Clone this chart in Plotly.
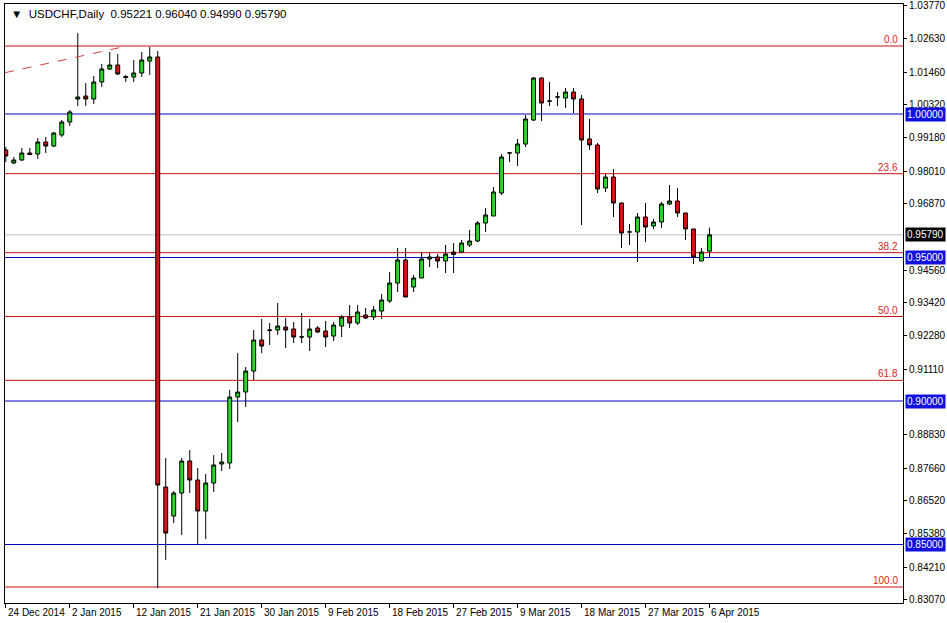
import pandas as pd
import plotly.graph_objects as go

# ---------------- data ----------------
start_date = "2014-12-24"
end_date = "2015-04-06"

opens = [0.98746, 0.98293, 0.98397, 0.98641, 0.98606, 0.99024, 0.98885, 0.99268, 0.99721, 1.00523,
         1.00627, 1.00523, 1.01115, 1.01568, 1.01707, 1.01306, 1.01289, 1.01428, 1.01847, 1.01986,
         0.87004, 0.85993, 0.86794, 0.87909, 0.87247, 0.86167, 0.87143, 0.87805, 0.87840, 0.90139,
         0.90314, 0.91045, 0.92125, 0.92456, 0.92474, 0.92578, 0.92509, 0.92230, 0.92230, 0.92544,
         0.92439, 0.92265, 0.92613, 0.92927, 0.92718, 0.92997, 0.92927, 0.93136, 0.93484, 0.94111,
         0.94913, 0.93972, 0.94286, 0.94948, 0.95017, 0.94878, 0.95192, 0.95192, 0.95436, 0.95575,
         0.96202, 0.96446, 0.97247, 0.98641, 0.98641, 0.98955, 0.99791, 1.01254, 1.00453, 1.00592,
         1.00557, 1.00766, 1.00523, 0.99129, 0.98920, 0.97422, 0.97805, 0.96899, 0.95888, 0.95888,
         0.96411, 0.96098, 0.96237, 0.96864, 0.96969, 0.96550, 0.95993, 0.94878, 0.95221]
highs = [0.98850, 0.98502, 0.98815, 0.98815, 0.99164, 0.99199, 0.99373, 0.99791, 1.00139, 1.02822,
         1.01080, 1.01324, 1.01742, 1.02160, 1.02091, 1.01359, 1.01881, 1.02160, 1.02334, 1.02195,
         0.88014, 0.86864, 0.88014, 0.88293, 0.87666, 0.87456, 0.88118, 0.88188, 0.90383, 0.91672,
         0.91185, 0.92474, 0.92857, 0.92718, 0.93415, 0.92892, 0.92753, 0.93066, 0.92857, 0.92613,
         0.92787, 0.92753, 0.92997, 0.93345, 0.93345, 0.93240, 0.93310, 0.93728, 0.94495, 0.95331,
         0.95331, 0.94390, 0.95192, 0.95157, 0.95122, 0.95436, 0.95505, 0.95610, 0.95958, 0.96272,
         0.96725, 0.97456, 0.98606, 0.98676, 0.99129, 0.99965, 1.01280, 1.01280, 1.01115, 1.00766,
         1.00906, 1.00906, 1.00662, 0.99826, 0.98990, 0.97909, 0.98084, 0.96910, 0.96167, 0.96550,
         0.96899, 0.96341, 0.96934, 0.97526, 0.97422, 0.96560, 0.96000, 0.95331, 0.96040]
lows = [0.98327, 0.98258, 0.98362, 0.98571, 0.98432, 0.98641, 0.98850, 0.99199, 0.99582, 1.00279,
        1.00279, 1.00348, 1.00941, 1.01533, 1.01359, 1.01115, 1.01115, 1.01289, 1.01359, 0.83484,
        0.84460, 0.85749, 0.85331, 0.86794, 0.84983, 0.85192, 0.86829, 0.87561, 0.87631, 0.89268,
        0.89791, 0.90732, 0.91672, 0.91951, 0.92300, 0.91847, 0.92021, 0.92021, 0.91742, 0.92369,
        0.91881, 0.92091, 0.92230, 0.92544, 0.92648, 0.92857, 0.92822, 0.92857, 0.93415, 0.93798,
        0.93624, 0.93798, 0.94286, 0.94669, 0.94634, 0.94460, 0.94460, 0.95157, 0.95366, 0.95540,
        0.95888, 0.96446, 0.97178, 0.98327, 0.98188, 0.98850, 0.99756, 0.99756, 1.00279, 1.00279,
        1.00209, 1.00035, 0.96132, 0.98746, 0.97247, 0.97282, 0.96411, 0.95331, 0.95436, 0.94843,
        0.95540, 0.95993, 0.96028, 0.96829, 0.96411, 0.95610, 0.94773, 0.94878, 0.94990]
closes = [0.98537, 0.98397, 0.98641, 0.98589, 0.99024, 0.98885, 0.99338, 0.99721, 1.00070, 1.00592,
          1.00523, 1.01115, 1.01568, 1.01707, 1.01394, 1.01272, 1.01428, 1.01881, 1.01986, 0.87073,
          0.85401, 0.86794, 0.87909, 0.87247, 0.86167, 0.87143, 0.87770, 0.87875, 0.90139, 0.90314,
          0.91045, 0.92125, 0.91916, 0.92474, 0.92613, 0.92474, 0.92230, 0.92235, 0.92509, 0.92404,
          0.92230, 0.92648, 0.92927, 0.92718, 0.93101, 0.92892, 0.93171, 0.93519, 0.94111, 0.94913,
          0.93624, 0.94286, 0.94948, 0.95017, 0.94878, 0.95122, 0.95105, 0.95505, 0.95575, 0.96202,
          0.96481, 0.97282, 0.98502, 0.98645, 0.98955, 0.99826, 1.01254, 1.00383, 1.00450, 1.00595,
          1.00766, 1.00523, 0.99094, 0.98920, 0.97387, 0.97805, 0.96899, 0.95854, 0.95892, 0.96411,
          0.96063, 0.96237, 0.96864, 0.96969, 0.96550, 0.95993, 0.95017, 0.95192, 0.95790]

fib_high = 1.02369
fib_low = 0.83519
fib_levels = [0.0, 23.6, 38.2, 50.0, 61.8, 100.0]
round_levels = [1.00000, 0.95000, 0.90000, 0.85000]
axis_ticks = [1.03770, 1.02630, 1.01460, 1.00320, 0.99180, 0.98010, 0.96870, 0.94560, 0.93420,
              0.92280, 0.91110, 0.88830, 0.87660, 0.86520, 0.85380, 0.84210, 0.83070]
trend_x = [-0.1, 14.6]
trend_y = [1.01440, 1.02334]
symbol = "USDCHF,Daily"
date_tick_step = 8

# ---------------- figure ----------------
dates = pd.bdate_range(start_date, end_date, freq="C", weekmask="Sun Mon Tue Wed Thu Fri")
idx = list(range(len(dates)))

fig = go.Figure()
fig.add_trace(go.Candlestick(
    x=idx, open=opens, high=highs, low=lows, close=closes,
    increasing=dict(fillcolor="#22dd22", line=dict(color="#000000", width=1)),
    decreasing=dict(fillcolor="#dd1111", line=dict(color="#000000", width=1)),
    whiskerwidth=0, showlegend=False, hoverinfo="skip"))

fig.add_trace(go.Scatter(x=trend_x, y=trend_y, mode="lines",
                         line=dict(color="#d04040", width=1, dash="dash"),
                         showlegend=False, hoverinfo="skip"))

shapes = []
annotations = []
FONT = "Liberation Sans"

# current price line
last_close = closes[-1]
shapes.append(dict(type="line", xref="paper", x0=0, x1=1, yref="y", y0=last_close, y1=last_close,
                   line=dict(color="#c0c0c0", width=1), layer="below"))

# fib lines
for lv in fib_levels:
    price = fib_high - (fib_high - fib_low) * lv / 100.0
    shapes.append(dict(type="line", xref="paper", x0=0, x1=1, yref="y", y0=price, y1=price,
                       line=dict(color="#cc1111", width=1), layer="below"))
    annotations.append(dict(xref="paper", x=0.997, yref="y", y=price, text=f"{lv:.1f}",
                            showarrow=False, xanchor="right", yanchor="bottom",
                            font=dict(family=FONT, size=10, color="#dd2222"), yshift=-1))

# round number lines
for lv in round_levels:
    shapes.append(dict(type="line", xref="paper", x0=0, x1=1, yref="y", y0=lv, y1=lv,
                       line=dict(color="#0000c0", width=1), layer="below"))
    annotations.append(dict(xref="paper", x=1, yref="y", y=lv, text=f"{lv:.5f}",
                            showarrow=False, xanchor="left", yanchor="middle", xshift=2,
                            bgcolor="#1010e0", borderpad=1,
                            font=dict(family=FONT, size=10, color="#ffffff")))

annotations.append(dict(xref="paper", x=1, yref="y", y=last_close, text=f"{last_close:.5f}",
                        showarrow=False, xanchor="left", yanchor="middle", xshift=2,
                        bgcolor="#000000", borderpad=1,
                        font=dict(family=FONT, size=10, color="#ffffff")))

# title
annotations.append(dict(xref="paper", x=0, yref="paper", y=1, xshift=4, yshift=-2,
                        text=f"▼  {symbol}  {opens[-1]:.5f} {highs[-1]:.5f} {lows[-1]:.5f} {closes[-1]:.5f}",
                        showarrow=False, xanchor="left", yanchor="top",
                        font=dict(family=FONT, size=11.5, color="#000000")))

# date labels
tick_idx = list(range(0, len(dates), date_tick_step))
for i in tick_idx:
    d = dates[i]
    annotations.append(dict(xref="x", x=i, yref="paper", y=0, yshift=-2,
                            text=f"{d.day} {d.strftime('%b %Y')}", showarrow=False,
                            xanchor="left", yanchor="top",
                            font=dict(family=FONT, size=10, color="#000000")))

fig.update_layout(
    width=947, height=623,
    margin=dict(l=5, r=44, t=4, b=20),
    paper_bgcolor="#ffffff", plot_bgcolor="#ffffff",
    shapes=shapes, annotations=annotations,
    xaxis=dict(range=[-0.1, 112.2], rangeslider=dict(visible=False), showgrid=False,
               zeroline=False, showline=True, mirror=True, linecolor="#000000", linewidth=1,
               tickvals=tick_idx, ticktext=["" for _ in tick_idx], ticks="outside", ticklen=4,
               tickcolor="#000000"),
    yaxis=dict(range=[0.82962, 1.03833], side="right", showgrid=False, zeroline=False,
               showline=True, mirror=True, linecolor="#000000", linewidth=1,
               tickvals=axis_ticks, ticktext=[f"{t:.5f}" for t in axis_ticks],
               ticks="outside", ticklen=3, tickcolor="#000000", automargin=False,
               tickfont=dict(family=FONT, size=10, color="#000000")),
)

fig.write_html("out.html", config={"displayModeBar": False},
               post_script="document.body.style.margin='0px';document.body.style.overflow='hidden';")
